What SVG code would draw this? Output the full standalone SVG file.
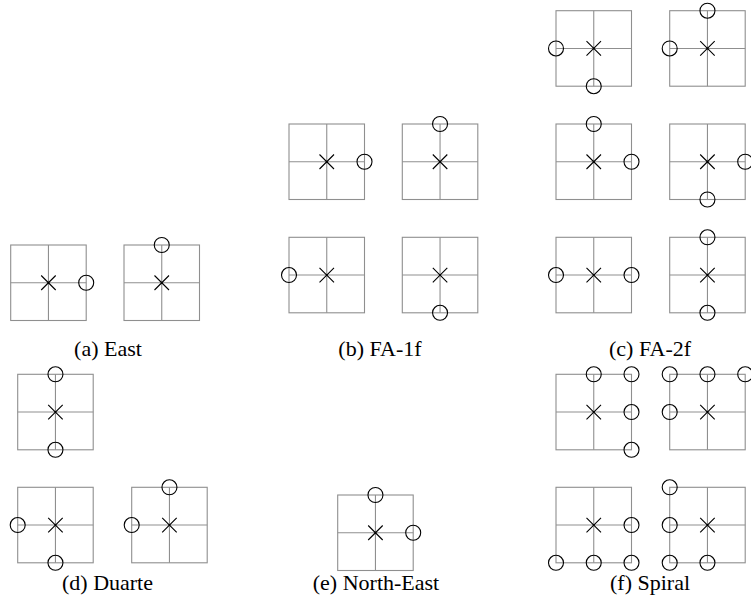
<svg xmlns="http://www.w3.org/2000/svg" xmlns:xlink="http://www.w3.org/1999/xlink" width="751" height="615" viewBox="0 0 751 615">
<defs>
<g id="box">
<g fill="none" stroke="#8f8f8f" stroke-width="1.1">
<rect x="0" y="0" width="75.5" height="75.5"/>
<line x1="37.75" y1="0" x2="37.75" y2="75.5"/>
<line x1="0" y1="37.75" x2="75.5" y2="37.75"/>
</g>
<path fill="none" stroke="#000" stroke-width="1.1" d="M30.5 30.5L45 45M45 30.5L30.5 45"/>
<circle cx="37.75" cy="37.75" r="1" fill="#000"/>
</g>
<circle id="o" r="7.5" fill="none" stroke="#000" stroke-width="1.1"/>
</defs>
<rect width="751" height="615" fill="#fff"/>
<g id="connectors"/>

<g id="a1" transform="translate(10.7,245)"><use xlink:href="#box"/><use xlink:href="#o" x="75.5" y="37.75"/></g>
<g id="a2" transform="translate(124,245)"><use xlink:href="#box"/><use xlink:href="#o" x="37.75" y="0"/></g>

<g id="b1" transform="translate(289,124)"><use xlink:href="#box"/><use xlink:href="#o" x="75.5" y="37.75"/></g>
<g id="b2" transform="translate(402.3,124)"><use xlink:href="#box"/><use xlink:href="#o" x="37.75" y="0"/></g>
<g id="b3" transform="translate(289,237.3)"><use xlink:href="#box"/><use xlink:href="#o" x="0" y="37.75"/></g>
<g id="b4" transform="translate(402.3,237.3)"><use xlink:href="#box"/><use xlink:href="#o" x="37.75" y="75.5"/></g>

<g id="c1" transform="translate(556,10.7)"><use xlink:href="#box"/><use xlink:href="#o" x="0" y="37.75"/><use xlink:href="#o" x="37.75" y="75.5"/></g>
<g id="c2" transform="translate(669.7,10.7)"><use xlink:href="#box"/><use xlink:href="#o" x="0" y="37.75"/><use xlink:href="#o" x="37.75" y="0"/></g>
<g id="c3" transform="translate(556,124)"><use xlink:href="#box"/><use xlink:href="#o" x="37.75" y="0"/><use xlink:href="#o" x="75.5" y="37.75"/></g>
<g id="c4" transform="translate(669.7,124)"><use xlink:href="#box"/><use xlink:href="#o" x="75.5" y="37.75"/><use xlink:href="#o" x="37.75" y="75.5"/></g>
<g id="c5" transform="translate(556,237.3)"><use xlink:href="#box"/><use xlink:href="#o" x="0" y="37.75"/><use xlink:href="#o" x="75.5" y="37.75"/></g>
<g id="c6" transform="translate(669.7,237.3)"><use xlink:href="#box"/><use xlink:href="#o" x="37.75" y="0"/><use xlink:href="#o" x="37.75" y="75.5"/></g>

<g id="d1" transform="translate(17.7,374.3)"><use xlink:href="#box"/><use xlink:href="#o" x="37.75" y="0"/><use xlink:href="#o" x="37.75" y="75.5"/></g>
<g id="d2" transform="translate(17.7,487.3)"><use xlink:href="#box"/><use xlink:href="#o" x="0" y="37.75"/><use xlink:href="#o" x="37.75" y="75.5"/></g>
<g id="d3" transform="translate(131.7,487.3)"><use xlink:href="#box"/><use xlink:href="#o" x="0" y="37.75"/><use xlink:href="#o" x="37.75" y="0"/></g>

<g id="e1" transform="translate(337.7,495)"><use xlink:href="#box"/><use xlink:href="#o" x="37.75" y="0"/><use xlink:href="#o" x="75.5" y="37.75"/></g>

<g id="f1" transform="translate(556,374.3)"><use xlink:href="#box"/><use xlink:href="#o" x="37.75" y="0"/><use xlink:href="#o" x="75.5" y="0"/><use xlink:href="#o" x="75.5" y="37.75"/><use xlink:href="#o" x="75.5" y="75.5"/></g>
<g id="f2" transform="translate(669.7,374.3)"><use xlink:href="#box"/><use xlink:href="#o" x="0" y="0"/><use xlink:href="#o" x="37.75" y="0"/><use xlink:href="#o" x="75.5" y="0"/><use xlink:href="#o" x="0" y="37.75"/></g>
<g id="f3" transform="translate(556,487.3)"><use xlink:href="#box"/><use xlink:href="#o" x="75.5" y="37.75"/><use xlink:href="#o" x="0" y="75.5"/><use xlink:href="#o" x="37.75" y="75.5"/><use xlink:href="#o" x="75.5" y="75.5"/></g>
<g id="f4" transform="translate(669.7,487.3)"><use xlink:href="#box"/><use xlink:href="#o" x="0" y="0"/><use xlink:href="#o" x="0" y="37.75"/><use xlink:href="#o" x="0" y="75.5"/><use xlink:href="#o" x="37.75" y="75.5"/></g>

<g id="captions" font-family="Liberation Serif" font-size="22" text-anchor="middle" fill="#000">
<text x="108" y="355.5">(a) East</text>
<text x="380" y="355.5">(b) FA-1f</text>
<text x="650" y="355.5">(c) FA-2f</text>
<text x="107.5" y="590">(d) Duarte</text>
<text x="376" y="590">(e) North-East</text>
<text x="650" y="590">(f) Spiral</text>
</g>
</svg>
